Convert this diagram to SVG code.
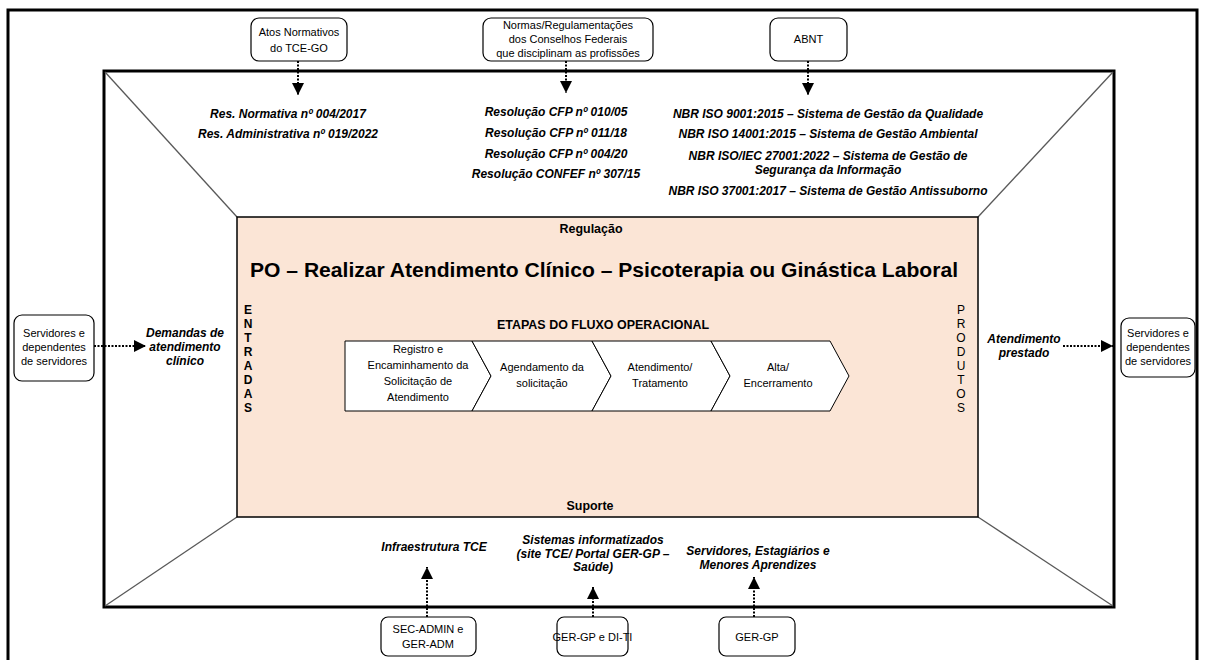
<svg xmlns="http://www.w3.org/2000/svg" width="1205" height="660" viewBox="0 0 1205 660">
<style>
.box{fill:#fff;stroke:#000;stroke-width:1.2}
.bt{font-family:"Liberation Sans",Arial,sans-serif;font-size:11px;fill:#000;text-anchor:middle}
.bi{font-family:"Liberation Sans",Arial,sans-serif;font-size:12px;font-weight:bold;font-style:italic;fill:#000;text-anchor:middle}
.lt{font-family:"Liberation Sans",Arial,sans-serif;font-size:12px;fill:#000;text-anchor:middle}
.hd{font-family:"Liberation Sans",Arial,sans-serif;font-weight:bold;fill:#000;text-anchor:middle}
.dot{stroke:#000;stroke-width:2;stroke-dasharray:2 1.5;fill:none}
.diag{stroke:#595959;stroke-width:1.3}
.chev{fill:#fff;stroke:#000;stroke-width:1}
</style>
<defs>
<marker id="ah" viewBox="0 0 12 12" refX="12" refY="6" markerWidth="12" markerHeight="12" markerUnits="userSpaceOnUse" orient="auto">
<path d="M0,0 L12,6 L0,12 Z" fill="#000"/>
</marker>
</defs>
<rect width="1205" height="660" fill="#fff"/>
<g id="frame">
<path d="M8,662 V10 H1197 V662" fill="none" stroke="#000" stroke-width="3"/>
<rect x="104" y="71" width="1010" height="536" fill="none" stroke="#000" stroke-width="3"/>
<line class="diag" x1="105" y1="72" x2="237" y2="217"/>
<line class="diag" x1="1113" y1="72" x2="978" y2="217"/>
<line class="diag" x1="105" y1="606" x2="237" y2="517"/>
<line class="diag" x1="1113" y1="606" x2="978" y2="517"/>
</g>
<g id="process">
<rect x="237" y="217" width="741" height="300" fill="#FBE5D6" stroke="#000" stroke-width="1.5"/>
<text class="hd" x="591" y="233" font-size="12.5" textLength="63" lengthAdjust="spacingAndGlyphs">Regulação</text>
<text class="hd" x="604" y="277" font-size="21" textLength="708" lengthAdjust="spacingAndGlyphs">PO – Realizar Atendimento Clínico – Psicoterapia ou Ginástica Laboral</text>
<text class="hd" x="603" y="329" font-size="13" textLength="212" lengthAdjust="spacingAndGlyphs">ETAPAS DO FLUXO OPERACIONAL</text>
<text class="hd" x="590" y="510" font-size="12.5" textLength="47" lengthAdjust="spacingAndGlyphs">Suporte</text>
<g class="lt" font-weight="bold">
<text x="248" y="314">E</text><text x="248" y="328">N</text><text x="248" y="342">T</text><text x="248" y="356">R</text><text x="248" y="370">A</text><text x="248" y="384">D</text><text x="248" y="398">A</text><text x="248" y="412">S</text>
</g>
<g class="lt">
<text x="961" y="314">P</text><text x="961" y="328">R</text><text x="961" y="342">O</text><text x="961" y="356">D</text><text x="961" y="370">U</text><text x="961" y="384">T</text><text x="961" y="398">O</text><text x="961" y="412">S</text>
</g>
</g>
<g id="step1">
<path class="chev" d="M345,341 H472 L491,376 L472,411 H345 Z"/>
<text class="bt" x="418" y="353">Registro e</text>
<text class="bt" x="418" y="369">Encaminhamento da</text>
<text class="bt" x="418" y="385">Solicitação de</text>
<text class="bt" x="418" y="401">Atendimento</text>
</g>
<g id="step2">
<path class="chev" d="M472,341 H592 L611,376 L592,411 H472 L491,376 Z"/>
<text class="bt" x="542" y="371">Agendamento da</text>
<text class="bt" x="542" y="387">solicitação</text>
</g>
<g id="step3">
<path class="chev" d="M592,341 H711 L730,376 L711,411 H592 L611,376 Z"/>
<text class="bt" x="660" y="371">Atendimento/</text>
<text class="bt" x="660" y="387">Tratamento</text>
</g>
<g id="step4">
<path class="chev" d="M711,341 H830 L849,376 L830,411 H711 L730,376 Z"/>
<text class="bt" x="778" y="371">Alta/</text>
<text class="bt" x="778" y="387">Encerramento</text>
</g>
<g id="src-tce">
<rect class="box" x="251" y="18" width="96" height="43" rx="8"/>
<text class="bt" x="299" y="36">Atos Normativos</text>
<text class="bt" x="299" y="52">do TCE-GO</text>
</g>
<g id="src-conselhos">
<rect class="box" x="483" y="18" width="170" height="43" rx="8"/>
<text class="bt" x="568" y="29">Normas/Regulamentações</text>
<text class="bt" x="568" y="43">dos Conselhos Federais</text>
<text class="bt" x="568" y="57">que disciplinam as profissões</text>
</g>
<g id="src-abnt">
<rect class="box" x="770" y="18" width="77" height="43" rx="8"/>
<text class="bt" x="808.5" y="43" font-size="10">ABNT</text>
</g>
<g id="reg-tce">
<text class="bi" x="288" y="118">Res. Normativa nº 004/2017</text>
<text class="bi" x="288" y="138">Res. Administrativa nº 019/2022</text>
</g>
<g id="reg-conselhos">
<text class="bi" x="556" y="116" font-size="11.5">Resolução CFP nº 010/05</text>
<text class="bi" x="556" y="137" font-size="11.5">Resolução CFP nº 011/18</text>
<text class="bi" x="556" y="158" font-size="11.5">Resolução CFP nº 004/20</text>
<text class="bi" x="556" y="178" font-size="11.5">Resolução CONFEF nº 307/15</text>
</g>
<g id="reg-abnt">
<text class="bi" x="828" y="118" font-size="11.5">NBR ISO 9001:2015 – Sistema de Gestão da Qualidade</text>
<text class="bi" x="828" y="138" font-size="11.5">NBR ISO 14001:2015 – Sistema de Gestão Ambiental</text>
<text class="bi" x="828" y="160" font-size="11.5">NBR ISO/IEC 27001:2022 – Sistema de Gestão de</text>
<text class="bi" x="828" y="174" font-size="11.5">Segurança da Informação</text>
<text class="bi" x="828" y="195" font-size="11.5">NBR ISO 37001:2017 – Sistema de Gestão Antissuborno</text>
</g>
<g id="client-in">
<rect class="box" x="14" y="315" width="80" height="66" rx="8"/>
<text class="bt" x="54" y="337">Servidores e</text>
<text class="bt" x="54" y="351">dependentes</text>
<text class="bt" x="54" y="365">de servidores</text>
</g>
<g id="input">
<text class="bi" x="185" y="337">Demandas de</text>
<text class="bi" x="185" y="351">atendimento</text>
<text class="bi" x="185" y="365">clínico</text>
</g>
<g id="output">
<text class="bi" x="1024" y="343">Atendimento</text>
<text class="bi" x="1024" y="357">prestado</text>
</g>
<g id="client-out">
<rect class="box" x="1121" y="318" width="74" height="59" rx="8"/>
<text class="bt" x="1158" y="337">Servidores e</text>
<text class="bt" x="1158" y="351">dependentes</text>
<text class="bt" x="1158" y="365">de servidores</text>
</g>
<g id="sup-infra">
<text class="bi" x="434" y="551">Infraestrutura TCE</text>
</g>
<g id="sup-sistemas">
<text class="bi" x="593" y="544">Sistemas informatizados</text>
<text class="bi" x="593" y="558">(site TCE/ Portal GER-GP –</text>
<text class="bi" x="593" y="571">Saúde)</text>
</g>
<g id="sup-pessoas">
<text class="bi" x="758" y="555">Servidores, Estagiários e</text>
<text class="bi" x="758" y="569">Menores Aprendizes</text>
</g>
<g id="own-admin">
<rect class="box" x="381" y="617" width="95" height="39" rx="7"/>
<text class="bt" x="428" y="633">SEC-ADMIN e</text>
<text class="bt" x="428" y="648">GER-ADM</text>
</g>
<g id="own-ti">
<rect class="box" x="557" y="617" width="71" height="39" rx="7"/>
<text class="bt" x="592.5" y="641" font-size="10.5">GER-GP e DI-TI</text>
</g>
<g id="own-gp">
<rect class="box" x="719" y="617" width="76" height="39" rx="7"/>
<text class="bt" x="757" y="641">GER-GP</text>
</g>
<g id="connectors">
<line class="dot" x1="298" y1="61" x2="298" y2="95" marker-end="url(#ah)"/>
<line class="dot" x1="566" y1="61" x2="566" y2="93" marker-end="url(#ah)"/>
<line class="dot" x1="808" y1="61" x2="808" y2="95" marker-end="url(#ah)"/>
<line class="dot" x1="94" y1="346" x2="146" y2="346" marker-end="url(#ah)"/>
<line class="dot" x1="1063" y1="346" x2="1113" y2="346" marker-end="url(#ah)"/>
<line class="dot" x1="427" y1="617" x2="427" y2="567" marker-end="url(#ah)"/>
<line class="dot" x1="593" y1="617" x2="593" y2="587" marker-end="url(#ah)"/>
<line class="dot" x1="754" y1="617" x2="754" y2="577" marker-end="url(#ah)"/>
</g>
</svg>
